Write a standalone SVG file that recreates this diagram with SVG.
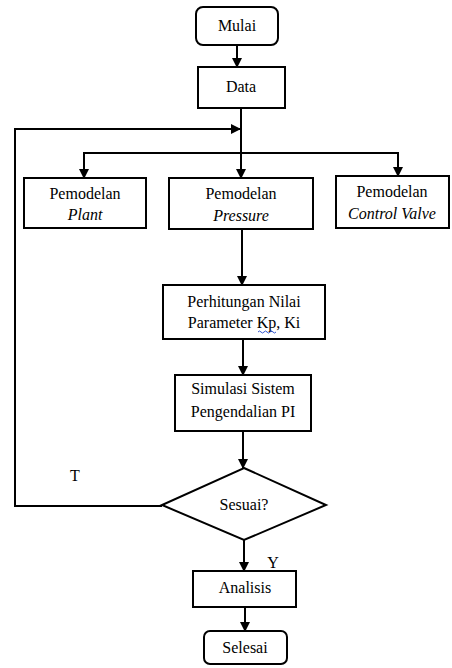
<svg xmlns="http://www.w3.org/2000/svg" width="452" height="668" viewBox="0 0 452 668">
<style>
.box{fill:#fff;stroke:#000;stroke-width:2}
.t{font-family:'Liberation Serif','DejaVu Serif',serif;font-size:16px;fill:#000;text-anchor:middle}
.i{font-style:italic}
.c{fill:none;stroke:#000;stroke-width:2}
</style>
<defs>
<marker id="ah" markerUnits="userSpaceOnUse" markerWidth="10" markerHeight="10" refX="9" refY="5" orient="auto">
<path d="M0,0 L10,5 L0,10 Z" fill="#000"/>
</marker>
</defs>
<rect width="452" height="668" fill="#fff"/>
<g id="connectors">
<line class="c" x1="237" y1="45" x2="237" y2="67" marker-end="url(#ah)"/>
<line class="c" x1="241" y1="108" x2="241" y2="178" marker-end="url(#ah)"/>
<polyline class="c" points="241,153 84,153 84,178" marker-end="url(#ah)"/>
<polyline class="c" points="241,153 398,153 398,176" marker-end="url(#ah)"/>
<polyline class="c" points="162,506 15,506 15,129 240,129" marker-end="url(#ah)"/>
<line class="c" x1="242" y1="229" x2="242" y2="285" marker-end="url(#ah)"/>
<line class="c" x1="243" y1="339" x2="243" y2="375" marker-end="url(#ah)"/>
<line class="c" x1="243" y1="431" x2="243" y2="468" marker-end="url(#ah)"/>
<line class="c" x1="244" y1="540" x2="244" y2="571" marker-end="url(#ah)"/>
<line class="c" x1="245" y1="607" x2="245" y2="631" marker-end="url(#ah)"/>
</g>
<g id="mulai">
<rect class="box" x="196" y="7" width="82" height="38" rx="7"/>
<text class="t" x="237" y="31">Mulai</text>
</g>
<g id="data">
<rect class="box" x="198" y="67" width="87" height="41"/>
<text class="t" x="241" y="92">Data</text>
</g>
<g id="plant">
<rect class="box" x="24" y="178" width="122" height="50"/>
<text class="t" x="85" y="199">Pemodelan</text>
<text class="t i" x="85" y="220">Plant</text>
</g>
<g id="pressure">
<rect class="box" x="169" y="178" width="144" height="51"/>
<text class="t" x="241" y="199">Pemodelan</text>
<text class="t i" x="241" y="221">Pressure</text>
</g>
<g id="controlvalve">
<rect class="box" x="336" y="176" width="113" height="52"/>
<text class="t" x="392" y="197">Pemodelan</text>
<text class="t i" x="392" y="219">Control Valve</text>
</g>
<g id="perhitungan">
<rect class="box" x="163" y="285" width="162" height="54"/>
<text class="t" x="244" y="307">Perhitungan Nilai</text>
<text class="t" x="244" y="328">Parameter Kp, Ki</text>
<path d="M258,332 q1.5,-2 3,0 t3,0 t3,0 t3,0 t3,0 t3,0" fill="none" stroke="#3355cc" stroke-width="1"/>
</g>
<g id="simulasi">
<rect class="box" x="175" y="375" width="136" height="56"/>
<text class="t" x="243" y="394">Simulasi Sistem</text>
<text class="t" x="243" y="417">Pengendalian PI</text>
</g>
<g id="sesuai">
<polygon class="box" points="244,468 326,505 244,540 162,505"/>
<text class="t" x="244" y="510">Sesuai?</text>
</g>
<text class="t" x="75" y="481">T</text>
<text class="t" x="273" y="568">Y</text>
<g id="analisis">
<rect class="box" x="193" y="571" width="103" height="36"/>
<text class="t" x="245" y="593">Analisis</text>
</g>
<g id="selesai">
<rect class="box" x="204" y="631" width="83" height="33" rx="6"/>
<text class="t" x="245" y="653">Selesai</text>
</g>
</svg>
